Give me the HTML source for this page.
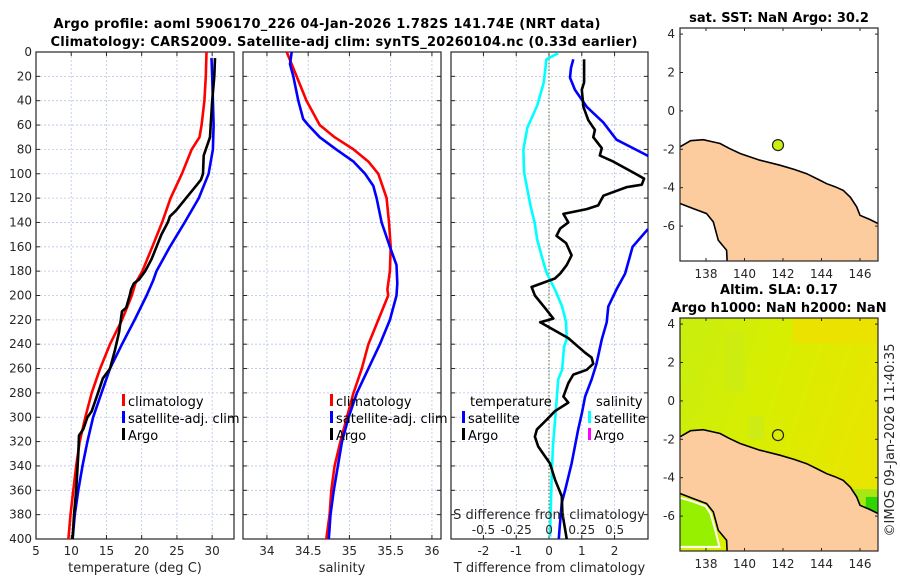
<!DOCTYPE html>
<html><head><meta charset="utf-8">
<style>
html,body{margin:0;padding:0;background:#fff;}
svg{display:block;font-family:"DejaVu Sans","Liberation Sans",sans-serif;}
.tk{font-size:12px;fill:#262626;}
.lab{font-size:13px;fill:#262626;}
.ttl{font-size:13px;font-weight:bold;fill:#000;}
.leg{font-size:13px;fill:#000;}
</style></head>
<body>
<svg id="fig" width="900" height="580" viewBox="0 0 900 580" xmlns="http://www.w3.org/2000/svg">
<defs>
<clipPath id="c1"><rect x="36" y="52" width="198" height="487"/></clipPath>
<clipPath id="c2"><rect x="243" y="52" width="198" height="487"/></clipPath>
<clipPath id="c3"><rect x="451" y="52" width="197" height="487"/></clipPath>
<clipPath id="cm1"><rect x="680" y="28" width="198" height="233"/></clipPath>
<clipPath id="cm2"><rect x="680" y="318" width="198" height="233"/></clipPath>
<linearGradient id="slaG" x1="0" y1="0" x2="1" y2="0.4">
<stop offset="0" stop-color="#c8ee10"/><stop offset="0.5" stop-color="#d8ee00"/><stop offset="1" stop-color="#e8e600"/>
</linearGradient>
</defs>
<text class="ttl" x="327" y="28" text-anchor="middle" textLength="547">Argo profile: aoml 5906170_226 04-Jan-2026 1.782S 141.74E (NRT data)</text>
<text class="ttl" x="344" y="46" text-anchor="middle" textLength="587">Climatology: CARS2009. Satellite-adj clim: synTS_20260104.nc (0.33d earlier)</text>
<g id="g1"></g>
<g id="g2"></g>
<g id="g3"></g>
<g id="m1"></g>
<g id="m2"></g>
<text class="lab" transform="translate(894,440) rotate(-90)" text-anchor="middle">©IMOS 09-Jan-2026 11:40:35</text>
</svg>
<script>
// ---- data ----
const depthTicks=[0,20,40,60,80,100,120,140,160,180,200,220,240,260,280,300,320,340,360,380,400];
const tempTicks=[5,10,15,20,25,30];
const salTicks=[34,34.5,35,35.5,36];
const tdiffTicks=[-2,-1,0,1,2];
const sdiffTicks=[-0.5,-0.25,0,0.25,0.5];
const sdiffTickLabels=["-0.5","-0.25","0","0.25","0.5"];
const climTdepth=[0,20,40,60,70,80,100,120,140,160,180,190,200,220,240,260,280,300,320,340,360,380,400];
const climT=[29.2,29.1,28.9,28.5,28.2,27.1,25.7,24.1,22.9,21.5,20.1,19.1,18.6,17.2,15.5,14.1,12.9,12.0,11.2,10.7,10.3,9.9,9.6];
const satTdepth=[5,20,40,60,80,100,120,140,160,180,188,200,220,240,260,280,300,320,340,360,380,400];
const satT=[29.9,30.0,30.1,30.2,30.1,29.5,28.1,26.1,24.0,22.1,21.6,20.7,19.0,17.2,15.5,14.3,13.1,12.3,11.6,11.0,10.5,10.2];
const argoTdepth=[5,20,40,60,70,75,85,100,105,110,120,130,135,140,150,160,170,180,187,190,195,200,210,213,230,245,260,268,280,295,300,310,315,330,360,380,400];
const argoT=[30.4,30.3,30.0,29.8,29.7,29.4,28.8,28.7,28.4,27.7,26.3,24.9,24.0,23.7,22.8,22.1,21.4,20.5,19.6,18.9,18.5,18.3,17.8,17.2,16.8,16.2,15.5,14.5,13.8,12.9,12.3,11.7,11.1,11.0,10.7,10.4,10.2];
const climSdepth=[0,10,20,40,60,70,80,90,100,120,140,160,180,195,200,220,240,260,280,300,320,340,360,380,400];
const climS=[34.24,34.30,34.36,34.48,34.64,34.82,35.05,35.23,35.35,35.45,35.48,35.50,35.49,35.46,35.47,35.35,35.23,35.15,35.05,34.97,34.89,34.82,34.78,34.76,34.72];
const satSdepth=[0,10,20,40,55,60,70,80,90,100,110,120,140,160,175,190,200,220,240,260,280,300,320,340,360,380,400];
const satS=[34.30,34.28,34.32,34.38,34.44,34.50,34.64,34.84,35.05,35.19,35.29,35.33,35.39,35.49,35.57,35.58,35.57,35.49,35.37,35.23,35.09,34.99,34.91,34.86,34.81,34.77,34.75];
const satSdiffDepth=[1,6,25,44,62,80,99,113,127,140,154,168,181,195,209,222,236,242,261,269,297,324,351,379,398];
const satSdiff=[0.07,-0.02,-0.04,-0.09,-0.165,-0.195,-0.19,-0.165,-0.14,-0.11,-0.09,-0.055,-0.02,0.045,0.10,0.13,0.135,0.115,0.10,0.07,0.05,0.03,0.02,0.012,0.008];
const satTdiffDepth=[6,13,21,31,45,58,72,85,100,120,140,146,160,182,195,209,222,236,256,269,283,297,310,338,360,370,392,400];
const satTdiff=[0.74,0.67,0.64,0.79,1.15,1.66,2.06,3.0,3.8,4.0,3.6,3.0,2.55,2.32,2.06,1.81,1.76,1.61,1.45,1.30,1.10,1.00,0.89,0.69,0.49,0.39,0.32,0.30];
const argoTdiffDepth=[6,25,31,45,56,64,70,79,85,90,99,104,109,111,118,126,129,133,140,145,151,157,167,175,182,186,193,200,212,219,222,228,235,247,251,256,261,265,272,283,288,295,302,310,316,324,338,351,365,379,392,400];
const argoTdiff=[1.07,1.07,1.0,1.05,1.2,1.40,1.35,1.61,1.55,1.96,2.57,2.90,2.83,2.37,1.66,1.50,1.15,0.44,0.59,0.34,0.23,0.52,0.69,0.54,0.34,0.18,-0.53,-0.43,-0.07,0.13,-0.27,0.13,0.59,1.10,1.30,1.35,1.15,0.74,0.59,0.44,0.59,0.18,-0.07,-0.37,-0.43,-0.33,0.03,0.18,0.39,0.41,0.49,0.54];
const lonTicks=[138,140,142,144,146];
const latTicks=[4,2,0,-2,-4,-6];
const argoLon=[141.74];
const argoLat=[-1.782];
const coastN=[[136.6,-2.3],[136.6,-1.9],[137.2,-1.55],[137.86,-1.5],[138.3,-1.6],[138.73,-1.7],[139.2,-1.95],[139.77,-2.22],[140.3,-2.4],[140.8,-2.57],[141.84,-2.83],[142.6,-3.05],[143.23,-3.27],[143.8,-3.55],[144.27,-3.79],[144.7,-3.95],[145.13,-4.14],[145.5,-4.5],[145.83,-5.0],[146.0,-5.44],[146.5,-5.65],[146.95,-5.87]];
const coastS=[[136.6,-4.8],[137.34,-5.09],[138.03,-5.35],[138.38,-5.78],[138.64,-6.74],[139.07,-7.26],[139.1,-7.9]];

const NS="http://www.w3.org/2000/svg";
function mk(parent,tag,attrs){const e=document.createElementNS(NS,tag);for(const k in attrs)e.setAttribute(k,attrs[k]);parent.appendChild(e);return e;}
const Y0=52,Y1=539;
const yD=d=>Y0+(d/400)*(Y1-Y0);

function panel(g,x0,x1,vmin,vmax,xt,xtl,clip,xlabel,showY){
  const sx=v=>x0+(v-vmin)/(vmax-vmin)*(x1-x0);
  depthTicks.forEach(d=>{if(d>0&&d<400){const l=mk(g,'line',{x1:x0,x2:x1,y1:yD(d),y2:yD(d),stroke:'#b8c4e8','stroke-width':0.8,'stroke-dasharray':'2,2'});

}});
  xt.forEach(v=>{const x=sx(v);if(x>x0+1&&x<x1-1){const l=mk(g,'line',{x1:x,x2:x,y1:Y0,y2:Y1,stroke:'#b8c4e8','stroke-width':0.8,'stroke-dasharray':'2,2'});

}});
  depthTicks.forEach(d=>{mk(g,'line',{x1:x0,x2:x0+4,y1:yD(d),y2:yD(d),stroke:'#262626'});mk(g,'line',{x1:x1,x2:x1-4,y1:yD(d),y2:yD(d),stroke:'#262626'});
    if(showY){const t=mk(g,'text',{class:'tk',x:x0-4,y:yD(d)+4,'text-anchor':'end'});t.textContent=d;

}});
  xt.forEach((v,i)=>{const x=sx(v);mk(g,'line',{x1:x,x2:x,y1:Y1,y2:Y1-4,stroke:'#262626'});mk(g,'line',{x1:x,x2:x,y1:Y0,y2:Y0+4,stroke:'#262626'});
    if(xtl){const t=mk(g,'text',{class:'tk',x:x,y:555,'text-anchor':'middle'});t.textContent=xtl[i];

}});
  const b=mk(g,'rect',{x:x0,y:Y0,width:x1-x0,height:Y1-Y0,fill:'none',stroke:'#262626','stroke-width':1.2});
  
  
  const xl=mk(g,'text',{class:'lab',x:(x0+x1)/2,y:572,'text-anchor':'middle'});xl.textContent=xlabel;
  
  
  return sx;
}
function line(g,sx,vals,deps,color,clip,name,w){
  const pts=vals.map((v,i)=>sx(v).toFixed(1)+','+yD(deps[i]).toFixed(1)).join(' ');
  const p=mk(g,'polyline',{points:pts,fill:'none',stroke:color,'stroke-width':w||2.6,'stroke-linejoin':'round','clip-path':'url(#'+clip+')'});
  
  
}
function legend(g,x,y,items){
  items.forEach((it,i)=>{
    const r=mk(g,'rect',{x:x,y:y+i*17-12,width:3,height:12,fill:it[1]});
    
    
    const t=mk(g,'text',{class:'leg',x:x+6,y:y+i*17});t.textContent=it[0];
    
    
  });
}
const g1=document.getElementById('g1');
const sx1=panel(g1,36,234,5,33.1,tempTicks,tempTicks,'c1','temperature (deg C)',true);
line(g1,sx1,climT,climTdepth,'#ff0000','c1','climatology-temperature-line');
line(g1,sx1,satT,satTdepth,'#0000ff','c1','satellite-temperature-line');
line(g1,sx1,argoT,argoTdepth,'#000000','c1','argo-temperature-line');
legend(g1,122,406,[['climatology','#ff0000'],['satellite-adj. clim','#0000ff'],['Argo','#000']]);
const g2=document.getElementById('g2');
const sx2=panel(g2,243,441,33.71,36.11,salTicks,salTicks,'c2','salinity',false);
line(g2,sx2,climS,climSdepth,'#ff0000','c2','climatology-salinity-line');
line(g2,sx2,satS,satSdepth,'#0000ff','c2','satellite-salinity-line');
legend(g2,330,406,[['climatology','#ff0000'],['satellite-adj. clim','#0000ff'],['Argo','#000']]);
const g3=document.getElementById('g3');
const sx3=panel(g3,451,648,-2.99,3.02,tdiffTicks,tdiffTicks,'c3','T difference from climatology',false);
const zl=mk(g3,'line',{x1:sx3(0),x2:sx3(0),y1:Y0,y2:Y1,stroke:'#556b2f','stroke-width':1,'stroke-dasharray':'1.5,2'});


const sxS=v=>sx3(v*4);
line(g3,sxS,satSdiff,satSdiffDepth,'#00ffff','c3','satellite-salinity-diff-line');
line(g3,sx3,satTdiff,satTdiffDepth,'#0000ff','c3','satellite-temperature-diff-line');
line(g3,sx3,argoTdiff,argoTdiffDepth,'#000000','c3','argo-temperature-diff-line');
(function(){
  let t=mk(g3,'text',{class:'leg',x:470,y:406});t.textContent='temperature';
  
  
  t=mk(g3,'text',{class:'leg',x:596,y:406});t.textContent='salinity';
  
  
})();
legend(g3,462,423,[['satellite','#0000ff'],['Argo','#000']]);
legend(g3,588,423,[['satellite','#00ffff'],['Argo','#ff00ff']]);
(function(){
  const t=mk(g3,'text',{class:'lab',x:549,y:519,'text-anchor':'middle'});t.textContent='S difference from climatology';
  
  
  sdiffTicks.forEach((v,i)=>{const s=mk(g3,'text',{class:'tk',x:sxS(v),y:534,'text-anchor':'middle'});s.textContent=sdiffTickLabels[i];
  
  });
})();
function map(g,top,clip,title,sla){
  const L=680,R=878,B=top+233;
  const mx=lon=>706+(lon-138)*19.25;
  const my=lat=>top+121.3+(-2-lat)*19.2;
  const bg=mk(g,'rect',{x:L,y:top,width:R-L,height:B-top,fill:sla?'url(#slaG)':'#fff'});
  
  
  const cg=mk(g,'g',{'clip-path':'url(#'+clip+')'});
  if(sla){
    [[139,3.6,140,0.5,'#cdec10'],[140.2,-0.8,141,-2,'#cdeb14'],[145.2,-4.6,146.95,-5.9,'#a8e614'],[146.3,-5,146.95,-6,'#30d400'],[142.5,4.4,146.9,3,'#ece200']].forEach(r=>{
      const e=mk(cg,'rect',{x:mx(r[0]),y:my(r[1]),width:mx(r[2])-mx(r[0]),height:my(r[3])-my(r[1]),fill:r[4]});
      
      
    });
  }
  const land=[...coastN,[147.2,-8.2],[139.1,-8.2],...coastS.slice().reverse()].map(p=>mx(p[0]).toFixed(1)+','+my(p[1]).toFixed(1)).join(' ');
  const lp=mk(cg,'polygon',{points:land,fill:'#fccc9f',stroke:'none'});
  
  
  if(sla){
    const w=mk(cg,'polygon',{points:[[136.5,-5.0],[137.34,-5.25],[138.0,-5.5],[138.25,-5.9],[138.5,-6.8],[138.7,-7.6],[136.5,-7.6]].map(p=>mx(p[0])+','+my(p[1])).join(' '),fill:'#96f000',stroke:'#fff','stroke-width':2});
    
    
  }
  [coastN,coastS].forEach(c=>{const pl=mk(cg,'polyline',{points:c.map(p=>mx(p[0]).toFixed(1)+','+my(p[1]).toFixed(1)).join(' '),fill:'none',stroke:'#000','stroke-width':1.6});
    
    });
  argoLon.forEach((lo,i)=>{const c=mk(g,'circle',{cx:mx(lo),cy:my(argoLat[i]),r:5.5,fill:sla?'none':'#ccee11',stroke:'#222','stroke-width':1.2});
    
    });
  latTicks.forEach(v=>{const y=my(v);mk(g,'line',{x1:L,x2:L+3,y1:y,y2:y,stroke:'#262626'});mk(g,'line',{x1:R,x2:R-3,y1:y,y2:y,stroke:'#262626'});
    const t=mk(g,'text',{class:'tk',x:L-5,y:y+4,'text-anchor':'end'});t.textContent=v;
    
    });
  lonTicks.forEach(v=>{const x=mx(v);mk(g,'line',{x1:x,x2:x,y1:B,y2:B-3,stroke:'#262626'});mk(g,'line',{x1:x,x2:x,y1:top,y2:top+3,stroke:'#262626'});
    const t=mk(g,'text',{class:'tk',x:x,y:B+17,'text-anchor':'middle'});t.textContent=v;
    
    });
  const b=mk(g,'rect',{x:L,y:top,width:R-L,height:B-top,fill:'none',stroke:'#262626','stroke-width':1.2});
  
  
  title.forEach((s,i)=>{const t=mk(g,'text',{class:'ttl',x:779,y:top-(title.length-1-i)*18-6,'text-anchor':'middle'});t.textContent=s;
    
    });
}
map(document.getElementById('m1'),28,'cm1',['sat. SST: NaN Argo: 30.2'],false);
map(document.getElementById('m2'),318,'cm2',['Altim. SLA: 0.17','Argo h1000: NaN h2000: NaN'],true);
</script>
</body></html>
